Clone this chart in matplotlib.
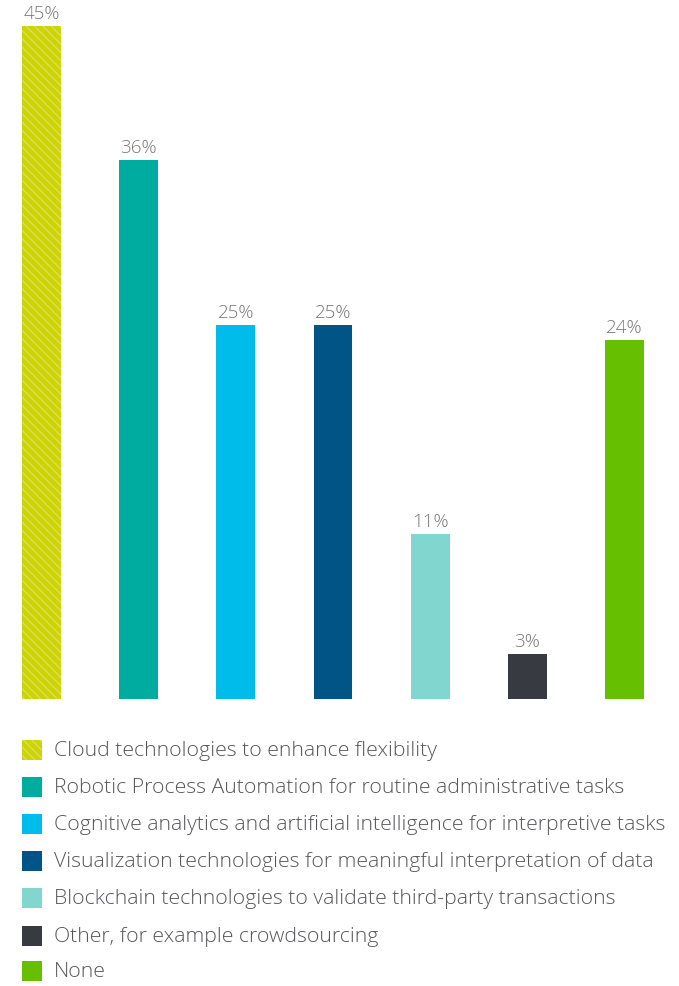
import matplotlib
matplotlib.use('Agg')
import matplotlib.pyplot as plt
from matplotlib.patches import Rectangle

plt.rcParams['font.family'] = ['Open Sans', 'DejaVu Sans']
plt.rcParams['hatch.linewidth'] = 0.9

categories = [
    'Cloud technologies to enhance flexibility',
    'Robotic Process Automation for routine administrative tasks',
    'Cognitive analytics and artificial intelligence for interpretive tasks',
    'Visualization technologies for meaningful interpretation of data',
    'Blockchain technologies to validate third-party transactions',
    'Other, for example crowdsourcing',
    'None',
]
values = [45, 36, 25, 25, 11, 3, 24]
colors = ['#cdd400', '#00aba0', '#00bceb', '#005587', '#81d6cf', '#373a41', '#66bf00']
hatches = ['\\\\\\\\', None, None, None, None, None, None]

W, H = 679, 987
fig = plt.figure(figsize=(W / 100, H / 100), dpi=100)

# bar area: baseline at y=700px, bars centred every ~97px starting at 41.5px
px_per_unit = 97.17
x0 = 41.5
ax = fig.add_axes([0, (H - 700) / H, 1, 700 / H])
ax.set_xlim(-x0 / px_per_unit, (W - x0) / px_per_unit)
ax.set_ylim(0, 700 / 14.96)
ax.axis('off')

xs = list(range(len(values)))
for x, v, c, h in zip(xs, values, colors, hatches):
    ax.bar(x, v, width=0.40, color=c, edgecolor='#dbe066' if h else c,
           linewidth=0, hatch=h)
    ax.annotate(f'{v}%', (x, v), xytext=(0, 3), textcoords='offset points',
                ha='center', va='bottom', fontsize=13.5, color='#77787b',
                fontweight='light')

# legend drawn by hand
row_y = [751, 788, 825, 862, 899, 937, 972]
for lab, c, h, y in zip(categories, colors, hatches, row_y):
    fig.patches.append(Rectangle((22 / W, (H - y - 10) / H), 20 / W, 20 / H,
                                 transform=fig.transFigure, facecolor=c,
                                 edgecolor='#dbe066' if h else c, linewidth=0,
                                 hatch=h))
    fig.text(54 / W, (H - y) / H, lab, ha='left', va='center',
             fontsize=15.3, color='#55565a', fontweight='light')

fig.savefig('out.png', dpi=100)
